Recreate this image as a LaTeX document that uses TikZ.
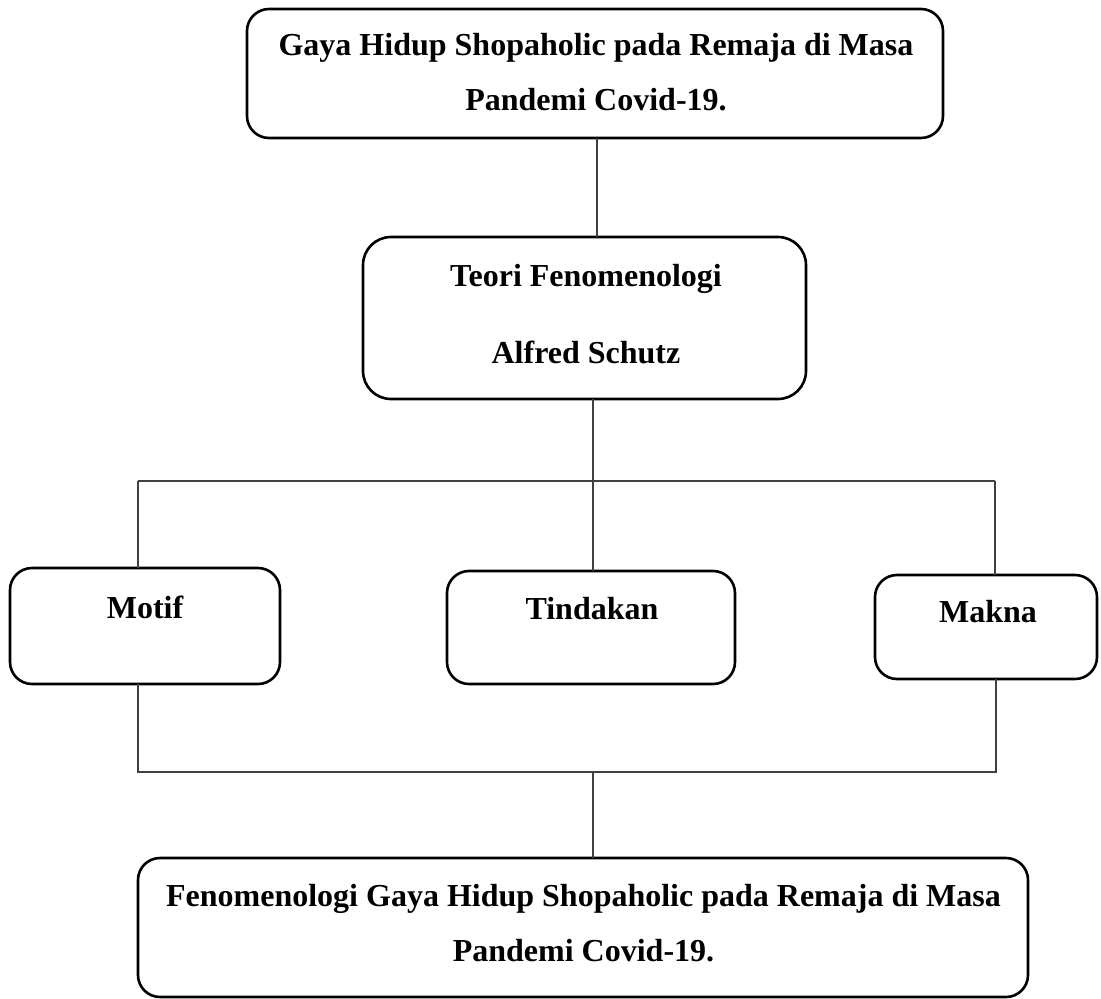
\documentclass[tikz,border=0pt]{standalone}
\usepackage{fontspec}
\setmainfont{Liberation Serif}
\begin{document}
\begin{tikzpicture}[x=1pt,y=-1pt,
  box/.style={draw=black, line width=2.6pt, rounded corners=22pt, outer sep=0pt, inner sep=0pt},
  conn/.style={draw=black!75, line width=1.1pt},
  lbl/.style={font=\bfseries\fontsize{32}{36}\selectfont, inner sep=0pt, anchor=base}]
\useasboundingbox (0,0) rectangle (1101,999);
\fill[white] (0,0) rectangle (1101,999);
% boxes
\node[box, minimum width=696pt, minimum height=129pt] (top) at (595,73.5) {};
\node[box, minimum width=443pt, minimum height=162pt, rounded corners=28pt] (mid) at (584.5,318) {};
\node[box, minimum width=270pt, minimum height=116pt] (motif) at (145,626) {};
\node[box, minimum width=288pt, minimum height=113pt] (tind) at (591,627.5) {};
\node[box, minimum width=222pt, minimum height=104pt] (makna) at (986,627) {};
\node[box, minimum width=890pt, minimum height=139pt] (bot) at (583,927.5) {};
% texts
\node[lbl] (t1) at (596,55) {Gaya Hidup Shopaholic pada Remaja di Masa};
\node[lbl] (t2) at (596,110) {Pandemi Covid-19.};
\node[lbl] (m1) at (586,286) {Teori Fenomenologi};
\node[lbl] (m2) at (586,363) {Alfred Schutz};
\node[lbl] (mo) at (145,618) {Motif};
\node[lbl] (ti) at (592,619) {Tindakan};
\node[lbl] (ma) at (988,622) {Makna};
\node[lbl] (b1) at (583.5,906) {Fenomenologi Gaya Hidup Shopaholic pada Remaja di Masa};
\node[lbl] (b2) at (583.5,961) {Pandemi Covid-19.};
% coordinates
\coordinate (ax) at (597,0);
\coordinate (jt) at (593,481);
\coordinate (jl) at (138,481);
\coordinate (jr) at (995,481);
\coordinate (bl) at (138,772);
\coordinate (br) at (996,772);
\coordinate (bm) at (593,772);
% connectors
\draw[conn] (top.south -| ax) -- (mid.north -| ax);
\draw[conn] (mid.south -| jt) -- (tind.north -| jt);
\draw[conn] (jl) -- (jr);
\draw[conn] (jl) -- (motif.north -| jl);
\draw[conn] (jr) -- (makna.north -| jr);
\draw[conn] (motif.south -| bl) -- (bl) -- (br) -- (makna.south -| br);
\draw[conn] (bm) -- (bot.north -| bm);
\end{tikzpicture}
\end{document}
